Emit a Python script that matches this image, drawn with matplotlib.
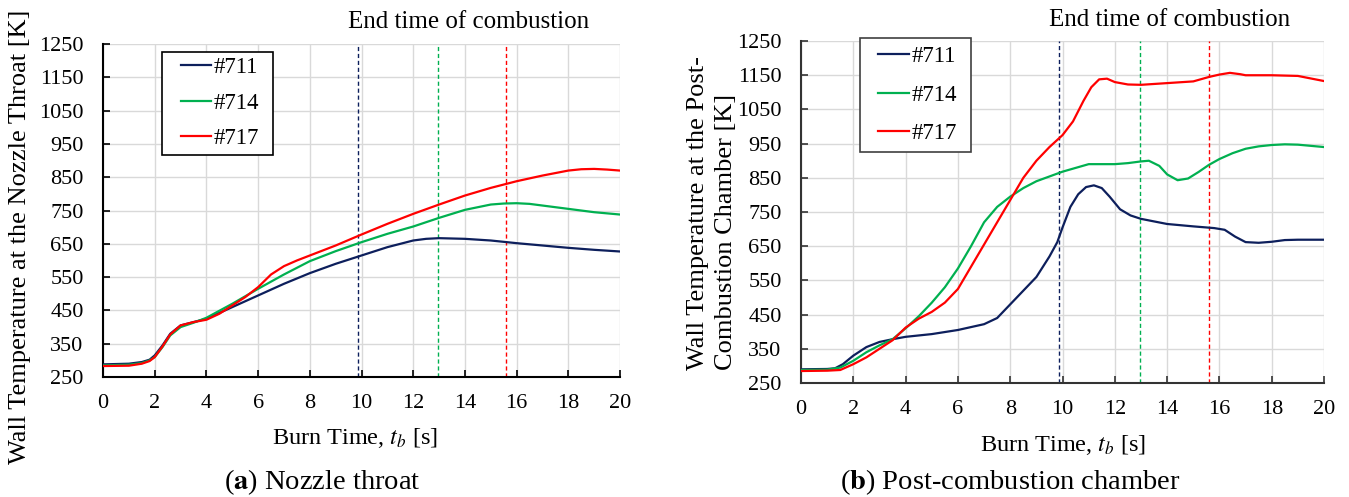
import matplotlib
matplotlib.use("Agg")
import matplotlib.pyplot as plt
from matplotlib.patches import Rectangle

plt.rcParams['font.family'] = ['Liberation Serif', 'DejaVu Serif']
plt.rcParams['mathtext.fontset'] = 'stix'

labels = ["#711", "#714", "#717"]
colors = ["#0D1F5C", "#00B050", "#FF0000"]
end_times = [9.85, 12.95, 15.6]

# (a) Nozzle throat
ta_711 = [0, 1, 1.5, 1.8, 2, 2.3, 2.6, 3, 3.5, 4, 5, 6, 7, 8, 9, 10, 11, 12, 12.5, 13, 14, 15, 16, 17, 18, 19, 20]
va_711 = [288, 290, 295, 302, 315, 345, 380, 405, 415, 425, 460, 495, 530, 562, 590, 615, 640, 660, 665, 667, 665, 660, 652, 645, 638, 632, 627]
ta_714 = [0, 1, 1.5, 1.8, 2, 2.3, 2.6, 3, 3.5, 4, 5, 6, 7, 8, 9, 10, 11, 12, 13, 14, 15, 15.5, 16, 16.5, 17, 18, 19, 20]
va_714 = [285, 287, 292, 300, 310, 340, 375, 400, 413, 428, 470, 515, 558, 598, 628, 655, 680, 702, 728, 752, 768, 771, 772, 770, 765, 755, 745, 738]
ta_717 = [0, 1, 1.5, 1.8, 2, 2.3, 2.6, 3, 3.5, 4, 4.5, 5, 5.5, 6, 6.5, 7, 7.5, 8, 9, 10, 11, 12, 13, 14, 15, 16, 17, 18, 18.5, 19, 19.5, 20]
va_717 = [283, 284, 290, 298, 310, 342, 378, 405, 415, 422, 440, 465, 490, 520, 558, 583, 600, 615, 645, 678, 710, 740, 768, 795, 818, 838, 855, 870, 874, 875, 873, 870]

# (b) Post-combustion chamber
tb_711 = [0, 1, 1.3, 1.6, 2, 2.5, 3, 3.5, 4, 5, 6, 7, 7.5, 8, 8.5, 9, 9.5, 9.8, 10, 10.3, 10.6, 10.9, 11.2, 11.5, 11.8, 12.2, 12.6, 13, 14, 15, 15.8, 16.2, 16.6, 17, 17.5, 18, 18.5, 19, 20]
vb_711 = [290, 291, 293, 305, 330, 355, 370, 378, 385, 393, 405, 422, 440, 480, 520, 560, 620, 662, 705, 765, 802, 823, 828, 820, 795, 758, 740, 730, 715, 708, 703, 698, 678, 662, 660, 663, 668, 669, 669]
tb_714 = [0, 1, 1.5, 2, 2.5, 3, 3.5, 4, 4.5, 5, 5.5, 6, 6.5, 7, 7.5, 8, 8.5, 9, 10, 11, 12, 12.5, 13, 13.3, 13.7, 14, 14.4, 14.8, 15.2, 15.6, 16, 16.5, 17, 17.5, 18, 18.5, 19, 20]
vb_714 = [288, 289, 295, 315, 340, 360, 378, 410, 445, 485, 530, 585, 650, 720, 765, 795, 820, 840, 868, 890, 890, 893, 898, 900, 885, 860, 843, 848, 867, 888, 905, 922, 935, 942, 946, 948, 947, 940]
tb_717 = [0, 1, 1.5, 2, 2.5, 3, 3.5, 4, 4.5, 5, 5.5, 6, 6.5, 7, 7.5, 8, 8.5, 9, 9.5, 10, 10.4, 10.8, 11.1, 11.4, 11.7, 12, 12.5, 13, 14, 15, 15.6, 16, 16.4, 16.8, 17, 18, 19, 20]
vb_717 = [285, 286, 288, 305, 325, 350, 375, 412, 438, 458, 485, 525, 590, 655, 720, 785, 850, 900, 940, 975, 1015, 1075, 1115, 1138, 1140, 1130, 1123, 1122, 1127, 1132, 1145, 1152, 1157, 1153, 1150, 1150, 1148, 1133]

xticks = list(range(0, 21, 2))
yticks = list(range(250, 1251, 100))

fig = plt.figure(figsize=(13.49, 4.97), dpi=100)
ax_a = fig.add_axes([0.0764, 0.2414, 0.3832, 0.670])
ax_b = fig.add_axes([0.5938, 0.2294, 0.3877, 0.688])


def style(ax, data, spine_color):
    for (t, v), lab, c in zip(data, labels, colors):
        ax.plot(t, v, color=c, lw=1.6, label=lab, zorder=3)
    for et, c in zip(end_times, colors):
        ax.axvline(et, color=c, lw=1.0, ls=(0, (3, 2)), zorder=2)
    ax.set_xlim(0, 20)
    ax.set_ylim(250, 1250)
    ax.set_xticks(xticks)
    ax.set_yticks(yticks)
    ax.grid(True, color="#D9D9D9", lw=1.0, zorder=0)
    ax.set_axisbelow(True)
    for s in ["top", "right"]:
        ax.spines[s].set_visible(False)
    for s in ["left", "bottom"]:
        ax.spines[s].set_linewidth(1.5)
        ax.spines[s].set_color(spine_color)
    ax.tick_params(direction="in", length=5, width=1.2, labelsize=16,
                   color=spine_color)
    ax.tick_params(axis="x", pad=12)
    ax.tick_params(axis="y", pad=14)


style(ax_a, [(ta_711, va_711), (ta_714, va_714), (ta_717, va_717)], "black")
style(ax_b, [(tb_711, vb_711), (tb_714, vb_714), (tb_717, vb_717)], "#333333")

# "End time of combustion"
ax_a.text(0.708, 1.066, "End time of combustion", transform=ax_a.transAxes,
          ha="center", va="center", fontsize=18)
ax_b.text(0.704, 1.061, "End time of combustion", transform=ax_b.transAxes,
          ha="center", va="center", fontsize=18)

# x labels
ax_a.text(0.487, -0.183, "Burn Time, $t_b$ [s]", transform=ax_a.transAxes,
          ha="center", va="center", fontsize=17.5)
ax_b.text(0.50, -0.181, "Burn Time, $t_b$ [s]", transform=ax_b.transAxes,
          ha="center", va="center", fontsize=17.5)

# y labels
fig.text(0.0148, 0.523, "Wall Temperature at the Nozzle Throat [K]",
         rotation=90, ha="center", va="center", fontsize=19)
fig.text(0.528, 0.571, "Wall Temperature at the Post-\nCombustion Chamber [K]",
         rotation=90, ha="center", va="center", fontsize=19,
         multialignment="left", linespacing=1.35)

# legends with manual frames
for ax, rect, anchor, lsp, hl, ec in [
        (ax_a, (0.1141, 0.6667, 0.3288 - 0.1141, 0.976 - 0.6667), (0.1509, 0.8228), 0.62, 1.3, "black"),
        (ax_b, (0.1128, 0.6754, 0.325 - 0.1128, 1.0088 - 0.6754), (0.1472, 0.8421), 0.78, 1.35, "#404040")]:
    ax.add_patch(Rectangle(rect[:2], rect[2], rect[3], transform=ax.transAxes,
                           facecolor="white", edgecolor=ec, lw=1.2,
                           zorder=4, clip_on=False))
    leg = ax.legend(loc="center left", bbox_to_anchor=anchor, fontsize=16.5,
                    frameon=False, handlelength=hl, handletextpad=0.1,
                    labelspacing=lsp, borderpad=0, borderaxespad=0)
    leg.set_zorder(5)

fig.text(322 / 1349, 0.03, r"($\mathbf{a}$) Nozzle throat", ha="center", va="center", fontsize=20.5)
fig.text(1010 / 1349, 0.03, r"($\mathbf{b}$) Post-combustion chamber", ha="center", va="center", fontsize=20.5)

fig.savefig("out.png", dpi=100)
